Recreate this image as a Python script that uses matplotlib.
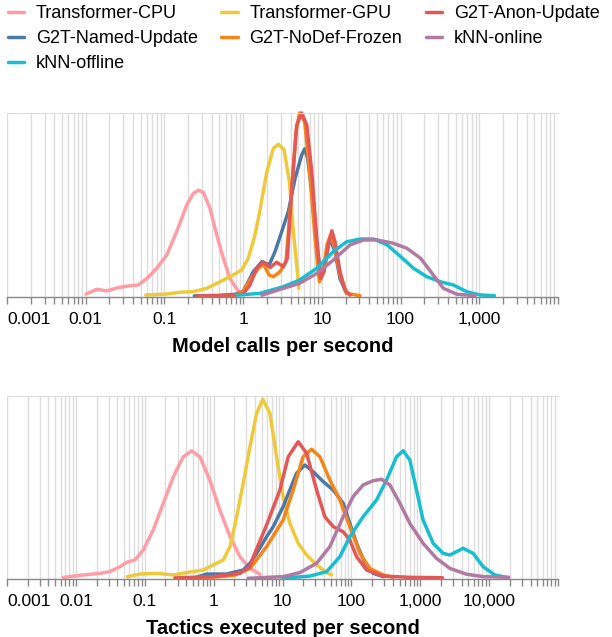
import matplotlib
matplotlib.use("Agg")
import matplotlib.pyplot as plt
from matplotlib.ticker import LogLocator, NullFormatter

plt.rcParams["font.family"] = ["Liberation Sans", "DejaVu Sans"]

# ---------------------------------------------------------------------------
# Data (x in units per second, y = relative density)
# ---------------------------------------------------------------------------

SERIES = ["Transformer-CPU", "Transformer-GPU", "G2T-Anon-Update",
          "G2T-Named-Update", "G2T-NoDef-Frozen", "kNN-online", "kNN-offline"]
COLORS = ["#FF9DA6", "#EECA3B", "#E45756", "#4C78A8", "#F58518", "#B279A2", "#17BECF"]

# Model calls per second
calls_cpu_x = [0.0101, 0.0138, 0.0185, 0.0259, 0.0347, 0.0465, 0.0596, 0.0798, 0.107, 0.143,
               0.192, 0.233, 0.270, 0.312, 0.379, 0.462, 0.560, 0.682, 0.830, 0.98]
calls_cpu_y = [0.016, 0.042, 0.033, 0.051, 0.060, 0.065, 0.10, 0.156, 0.228, 0.355,
               0.50, 0.563, 0.58, 0.569, 0.482, 0.337, 0.21, 0.10, 0.043, 0.015]

calls_gpu_x = [0.058, 0.107, 0.158, 0.233, 0.344, 0.509, 0.75, 0.96, 1.16, 1.4, 1.6,
               2.0, 2.42, 2.80, 3.31, 3.87, 4.35, 4.88, 5.1]
calls_gpu_y = [0.011, 0.016, 0.026, 0.029, 0.047, 0.083, 0.12, 0.147, 0.21, 0.33, 0.45,
               0.68, 0.808, 0.83, 0.80, 0.627, 0.355, 0.138, 0.047]

calls_anon_x = [0.26, 0.5, 0.8, 1.0, 1.22, 1.49, 1.81, 2.20, 2.67, 3.24, 3.65, 4.15, 4.80,
                5.55, 6.43, 7.44, 8.61, 9.68, 10.67, 12.1, 13.4, 14.7, 17.0, 19.7, 22.8]
calls_anon_y = [0.006, 0.008, 0.012, 0.016, 0.065, 0.156, 0.190, 0.16, 0.189, 0.165, 0.21, 0.59,
                0.935, 1.0, 0.935, 0.681, 0.319, 0.10, 0.138, 0.283, 0.36, 0.30, 0.138, 0.038, 0.01]

calls_named_x = [0.24, 0.5, 0.8, 1.0, 1.35, 1.73, 2.14, 2.54, 3.09, 3.75, 4.57, 5.55, 6.05,
                 6.6, 7.44, 8.61, 9.68, 10.9, 12.6, 14.7, 17.0, 20.6]
calls_named_y = [0.006, 0.008, 0.015, 0.03, 0.138, 0.192, 0.174, 0.246, 0.355, 0.464, 0.645,
                 0.772, 0.805, 0.754, 0.572, 0.283, 0.12, 0.174, 0.319, 0.246, 0.10, 0.02]

calls_nodef_x = [0.45, 0.8, 1.0, 1.22, 1.56, 1.81, 2.14, 2.42, 2.95, 3.5, 4.0, 4.70, 5.2,
                 6.05, 7.0, 8.2, 9.3, 10.4, 11.6, 12.9, 14.3, 17.0, 20.6, 30.5]
calls_nodef_y = [0.006, 0.01, 0.03, 0.092, 0.156, 0.178, 0.12, 0.11, 0.138, 0.192, 0.50, 0.90,
                 1.0, 0.953, 0.681, 0.319, 0.083, 0.138, 0.283, 0.337, 0.283, 0.12, 0.02, 0.007]

calls_online_x = [1.73, 3.24, 5.2, 8.6, 13.9, 22.8, 33.9, 50, 81, 120, 180, 260, 350, 520, 880]
calls_online_y = [0.01, 0.047, 0.074, 0.128, 0.20, 0.283, 0.31, 0.31, 0.292, 0.265, 0.21,
                  0.12, 0.047, 0.015, 0.007]

calls_offline_x = [0.83, 1.64, 3.24, 5.2, 8.6, 13.9, 20.6, 30.5, 45.6, 67.6, 100, 146, 216,
                   320, 470, 690, 1020, 1560]
calls_offline_y = [0.01, 0.02, 0.056, 0.092, 0.156, 0.246, 0.30, 0.315, 0.315, 0.283, 0.22,
                   0.156, 0.11, 0.083, 0.065, 0.029, 0.011, 0.007]

# Tactics executed per second
tactics_cpu_x = [0.0066, 0.0128, 0.0224, 0.031, 0.0437, 0.0546, 0.072, 0.095, 0.133, 0.186,
                 0.26, 0.362, 0.48, 0.632, 0.88, 1.23, 1.73, 2.41, 3.37, 4.7]
tactics_cpu_y = [0.009, 0.022, 0.031, 0.04, 0.067, 0.091, 0.104, 0.158, 0.268, 0.414,
                 0.559, 0.668, 0.70, 0.668, 0.541, 0.377, 0.231, 0.122, 0.058, 0.026]

tactics_gpu_x = [0.0557, 0.085, 0.149, 0.26, 0.453, 0.706, 0.986, 1.38, 1.73, 2.16, 2.69,
                 3.37, 4.21, 5.17, 6.56, 8.2, 10.2, 12.8, 16.9, 22.4, 31.3, 43.7, 51.6]
tactics_gpu_y = [0.013, 0.027, 0.031, 0.022, 0.038, 0.049, 0.077, 0.104, 0.177, 0.34, 0.523,
                 0.723, 0.905, 0.982, 0.905, 0.668, 0.45, 0.304, 0.195, 0.131, 0.077, 0.035, 0.022]

tactics_anon_x = [0.274, 0.986, 2.41, 3.37, 3.76, 5.88, 9.16, 12.1, 16.9, 22.4, 31.3, 41.2,
                  54.5, 76, 95, 119, 166, 290, 706, 2100]
tactics_anon_y = [0.006, 0.013, 0.031, 0.067, 0.12, 0.295, 0.486, 0.668, 0.75, 0.687, 0.486,
                  0.34, 0.286, 0.258, 0.213, 0.122, 0.049, 0.016, 0.009, 0.007]

tactics_named_x = [0.57, 0.79, 1.53, 2.69, 3.37, 4.21, 5.88, 7.33, 10.2, 16.0, 21.1, 27.9,
                   39, 54.5, 76, 95, 119, 157, 207, 290]
tactics_named_y = [0.01, 0.027, 0.027, 0.049, 0.086, 0.14, 0.231, 0.286, 0.395, 0.578, 0.623,
                   0.586, 0.532, 0.486, 0.414, 0.304, 0.195, 0.086, 0.031, 0.013]

tactics_nodef_x = [0.45, 1.0, 2.0, 3.37, 5.88, 10.2, 14.3, 19.9, 26.4, 34.9, 48.7, 68.1, 95,
                   133, 185, 290, 404]
tactics_nodef_y = [0.005, 0.01, 0.02, 0.058, 0.177, 0.322, 0.486, 0.668, 0.709, 0.668, 0.541,
                   0.432, 0.286, 0.14, 0.058, 0.022, 0.009]

tactics_online_x = [3.18, 10.2, 17.9, 31.3, 48.7, 76, 106, 148, 207, 274, 362, 506, 706,
                    1100, 1720, 2690, 4700, 8190, 19300]
tactics_online_y = [0.004, 0.013, 0.035, 0.086, 0.177, 0.34, 0.45, 0.514, 0.537, 0.545, 0.514,
                    0.414, 0.304, 0.195, 0.113, 0.058, 0.026, 0.013, 0.009]

tactics_offline_x = [10.2, 25, 43.7, 68.1, 95, 148, 232, 324, 453, 565, 706, 883, 1100, 1540,
                     2150, 2690, 4200, 5860, 8190, 12100, 17900]
tactics_offline_y = [0.005, 0.016, 0.04, 0.122, 0.231, 0.34, 0.432, 0.541, 0.668, 0.701, 0.65,
                     0.486, 0.322, 0.195, 0.14, 0.131, 0.168, 0.14, 0.067, 0.022, 0.009]

calls_ticks = [0.001, 0.01, 0.1, 1, 10, 100, 1000, 10000]
calls_tick_labels = ["0.001", "0.01", "0.1", "1", "10", "100", "1,000", ""]
tactics_ticks = [0.001, 0.01, 0.1, 1, 10, 100, 1000, 10000, 100000]
tactics_tick_labels = ["0.001", "0.01", "0.1", "1", "10", "100", "1,000", "10,000", ""]

calls_data = {
    "Transformer-CPU": (calls_cpu_x, calls_cpu_y),
    "Transformer-GPU": (calls_gpu_x, calls_gpu_y),
    "G2T-Anon-Update": (calls_anon_x, calls_anon_y),
    "G2T-Named-Update": (calls_named_x, calls_named_y),
    "G2T-NoDef-Frozen": (calls_nodef_x, calls_nodef_y),
    "kNN-online": (calls_online_x, calls_online_y),
    "kNN-offline": (calls_offline_x, calls_offline_y),
}
tactics_data = {
    "Transformer-CPU": (tactics_cpu_x, tactics_cpu_y),
    "Transformer-GPU": (tactics_gpu_x, tactics_gpu_y),
    "G2T-Anon-Update": (tactics_anon_x, tactics_anon_y),
    "G2T-Named-Update": (tactics_named_x, tactics_named_y),
    "G2T-NoDef-Frozen": (tactics_nodef_x, tactics_nodef_y),
    "kNN-online": (tactics_online_x, tactics_online_y),
    "kNN-offline": (tactics_offline_x, tactics_offline_y),
}

# drawing order (last one ends up on top)
DRAW_ORDER = ["Transformer-CPU", "Transformer-GPU", "G2T-Named-Update", "G2T-NoDef-Frozen",
              "G2T-Anon-Update", "kNN-offline", "kNN-online"]
COLOR_OF = dict(zip(SERIES, COLORS))

GRID = "#dddddd"
AXIS = "#888888"
W, H = 612, 637


def draw_panel(ax, data, xmax, ticks, tick_labels, xlabel):
    handles = {}
    for name in DRAW_ORDER:
        xs, ys = data[name]
        (ln,) = ax.plot(xs, ys, color=COLOR_OF[name], lw=2.5, label=name,
                        solid_capstyle="round", solid_joinstyle="round", clip_on=False)
        handles[name] = ln

    ax.set_xscale("log")
    ax.set_xlim(0.001, xmax)
    ax.set_ylim(0, 1.0)
    ax.set_yticks([])

    ax.set_xticks(ticks, tick_labels)
    ax.xaxis.set_minor_locator(LogLocator(base=10, subs=range(2, 10), numticks=100))
    ax.xaxis.set_minor_formatter(NullFormatter())
    ax.grid(True, which="both", axis="x", color=GRID, lw=1, zorder=0)
    ax.set_axisbelow(True)
    ax.tick_params(axis="x", which="both", length=5, width=1, color=AXIS,
                   labelsize=12.5, pad=6)
    # first label sits flush with the left edge
    ax.xaxis.get_major_ticks()[0].label1.set_horizontalalignment("left")

    for side in ("left", "right"):
        ax.spines[side].set_visible(False)
    ax.spines["top"].set_color(GRID)
    ax.spines["bottom"].set_color(AXIS)
    ax.spines["bottom"].set_linewidth(1)
    ax.set_xlabel(xlabel, fontsize=14.5, fontweight="bold", labelpad=7)
    return handles


fig = plt.figure(figsize=(W / 100, H / 100), dpi=100)
ax_top = fig.add_axes([7 / W, 1 - 297 / H, 551 / W, 184 / H])
ax_bot = fig.add_axes([7 / W, 1 - 579 / H, 551 / W, 183 / H])

handles = draw_panel(ax_top, calls_data, 10000, calls_ticks, calls_tick_labels,
                     "Model calls per second")
draw_panel(ax_bot, tactics_data, 100000, tactics_ticks, tactics_tick_labels,
           "Tactics executed per second")

# legend is filled column by column, so reorder to read row-wise like the original
legend_order = ["Transformer-CPU", "G2T-Named-Update", "kNN-offline",
                "Transformer-GPU", "G2T-NoDef-Frozen",
                "G2T-Anon-Update", "kNN-online"]
leg = fig.legend([handles[n] for n in legend_order], legend_order,
                 loc="upper left", bbox_to_anchor=(8 / W, 1 - 5 / H), ncol=3,
                 frameon=False, fontsize=13, handlelength=0.9, handletextpad=0.65,
                 columnspacing=1.3, labelspacing=0.45, borderpad=0, borderaxespad=0)
for ln in leg.get_lines():
    ln.set_linewidth(2.5)

fig.savefig("out.png", dpi=100)
